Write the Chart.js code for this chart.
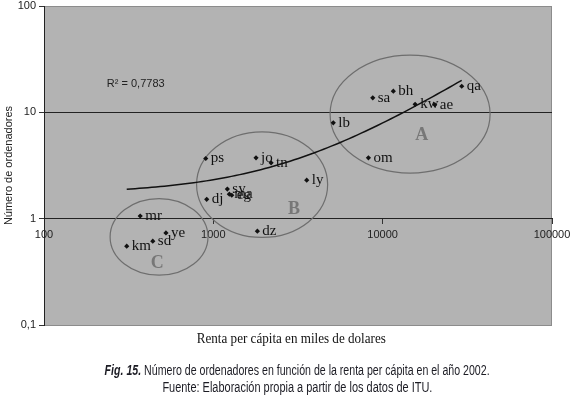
<!DOCTYPE html>
<html>
<head>
<meta charset="utf-8">
<script src="https://cdn.jsdelivr.net/npm/chart.js@4"></script>
<style>
  html, body { margin: 0; padding: 0; background: #fff; }
  #wrap { position: relative; width: 570px; height: 396px; overflow: hidden; }
  #grafico { position: absolute; left: 0; top: 0; }
  .linea { position: absolute; left: 0; text-align: center; white-space: nowrap; }
  .linea span { display: inline-block; transform-origin: 50% 50%; }
  .xtitle { width: 583px; top: 330px; font-family: "Liberation Serif", serif; font-size: 15px; color: #111; }
  .caption { width: 594px; font-family: "Liberation Sans", sans-serif; font-size: 14px; color: #1c1c24; }
</style>
</head>
<body>
<div id="wrap">
  <canvas id="grafico" width="570" height="396"></canvas>
  <div class="linea xtitle"><span data-w="189">Renta per cápita en miles de dolares</span></div>
  <div class="linea caption" style="top:362px"><span data-w="385"><b><i>Fig. 15.</i></b> Número de ordenadores en función de la renta per cápita en el año 2002.</span></div>
  <div class="linea caption" style="top:379px"><span data-w="270">Fuente: Elaboración propia a partir de los datos de ITU.</span></div>
</div>
<script>
// datos
const paises = ['qa', 'bh', 'sa', 'kw', 'ae', 'lb', 'om', 'ly', 'ps', 'jo', 'tn', 'sy', 'ma', 'eg', 'dj', 'dz', 'mr', 'ye', 'sd', 'km'];
const renta = [29300, 11560, 8740, 15550, 20300, 5110, 8240, 3560, 902, 1787, 2193, 1210, 1243, 1285, 914, 1820, 370, 525, 439, 308];
const ordenadores = [17.6, 15.8, 13.7, 11.9, 11.8, 7.96, 3.73, 2.30, 3.68, 3.73, 3.35, 1.9, 1.70, 1.66, 1.52, 0.763, 1.06, 0.735, 0.614, 0.551];
const xTicks = [100, 1000, 10000, 100000];
const yTicks = [0.1, 1, 10, 100];
const yTickLabels = ['0,1', '1', '10', '100'];
const r2Text = 'R² = 0,7783';

// grupos A, B, C: centro en unidades de datos, radios en decadas
const grupos = [
  { letra: 'A', cx: 14520, cy: 9.62, rx: 0.4725, ry: 0.555, lx: 17020, ly: 6.10 },
  { letra: 'B', cx: 1941, cy: 2.09, rx: 0.387, ry: 0.497, lx: 2999, ly: 1.23 },
  { letra: 'C', cx: 478, cy: 0.674, rx: 0.289, ry: 0.360, lx: 467, ly: 0.379 }
];

// textos de pie comprimidos al ancho del original
document.querySelectorAll('.linea span').forEach(el => {
  const w = el.getBoundingClientRect().width;
  el.style.transform = 'scaleX(' + (Number(el.dataset.w) / w) + ')';
});

const puntos = renta.map((x, i) => ({ x: x, y: ordenadores[i] }));

// linea de tendencia lineal (minimos cuadrados)
const n = renta.length;
const mx = renta.reduce((a, b) => a + b, 0) / n;
const my = ordenadores.reduce((a, b) => a + b, 0) / n;
let sxy = 0, sxx = 0;
for (let i = 0; i < n; i++) {
  sxy += (renta[i] - mx) * (ordenadores[i] - my);
  sxx += (renta[i] - mx) * (renta[i] - mx);
}
const pend = sxy / sxx;
const orig = my - pend * mx;
const xMin = Math.min(...renta), xMax = Math.max(...renta);
const tendencia = [];
for (let i = 0; i <= 80; i++) {
  const x = xMin * Math.pow(xMax / xMin, i / 80);
  tendencia.push({ x: x, y: orig + pend * x });
}

const extras = {
  id: 'extras',
  beforeDraw(chart) {
    const a = chart.chartArea, c = chart.ctx;
    c.save();
    c.fillStyle = '#b3b3b3';
    c.fillRect(a.left, a.top, a.right - a.left, a.bottom - a.top);
    c.strokeStyle = '#8c8c8c';
    c.lineWidth = 1;
    c.strokeRect(a.left + 0.5, a.top + 0.5, a.right - a.left - 1, a.bottom - a.top);
    c.restore();
  },
  beforeDatasetsDraw(chart) {
    const c = chart.ctx, xs = chart.scales.x, ys = chart.scales.y;
    c.save();
    c.strokeStyle = '#6e6e6e';
    c.lineWidth = 1.2;
    grupos.forEach(g => {
      const px = xs.getPixelForValue(g.cx), py = ys.getPixelForValue(g.cy);
      const rx = xs.getPixelForValue(g.cx * Math.pow(10, g.rx)) - px;
      const ry = py - ys.getPixelForValue(g.cy * Math.pow(10, g.ry));
      c.beginPath();
      c.ellipse(px, py, rx, ry, 0, 0, Math.PI * 2);
      c.stroke();
    });
    c.fillStyle = '#777';
    c.font = 'bold 18px "Liberation Serif"';
    c.textAlign = 'center';
    c.textBaseline = 'middle';
    grupos.forEach(g => {
      c.fillText(g.letra, xs.getPixelForValue(g.lx), ys.getPixelForValue(g.ly));
    });
    c.restore();
  },
  afterDatasetsDraw(chart) {
    const c = chart.ctx, xs = chart.scales.x, ys = chart.scales.y;
    const meta = chart.getDatasetMeta(1);
    c.save();
    c.fillStyle = '#111';
    c.font = '15px "Liberation Serif"';
    c.textAlign = 'left';
    c.textBaseline = 'middle';
    meta.data.forEach((p, i) => {
      c.fillText(paises[i], p.x + 5, p.y);
    });
    c.font = '11px "Liberation Sans"';
    c.fillStyle = '#222';
    c.textBaseline = 'alphabetic';
    c.fillText(r2Text, xs.getPixelForValue(235), ys.getPixelForValue(17.3));
    c.restore();
  }
};

new Chart(document.getElementById('grafico'), {
  data: {
    datasets: [
      {
        type: 'line',
        data: tendencia,
        borderColor: '#111',
        borderWidth: 1.5,
        pointRadius: 0,
        fill: false
      },
      {
        type: 'scatter',
        data: puntos,
        pointStyle: 'rectRot',
        pointRadius: 2.6,
        backgroundColor: '#111',
        borderWidth: 0
      }
    ]
  },
  options: {
    responsive: false,
    animation: false,
    layout: { padding: { left: 0, right: 18, top: 6, bottom: 71 } },
    plugins: { legend: { display: false }, tooltip: { enabled: false } },
    scales: {
      x: {
        type: 'logarithmic',
        min: 100,
        max: 100000,
        position: { y: 1 },
        afterBuildTicks: s => { s.ticks = xTicks.map(v => ({ value: v })); },
        afterFit: s => { s.paddingLeft = 0; s.paddingRight = 0; },
        ticks: {
          autoSkip: false,
          maxRotation: 0,
          padding: 5,
          color: '#222',
          font: { family: 'Liberation Sans', size: 11 },
          callback: v => String(v)
        },
        grid: { drawOnChartArea: false, tickLength: 5, tickColor: '#333' },
        border: { display: true, color: '#222' }
      },
      y: {
        type: 'logarithmic',
        min: 0.1,
        max: 100,
        afterBuildTicks: s => { s.ticks = yTicks.map(v => ({ value: v })); },
        afterFit: s => { s.width = 44; s.paddingTop = 0; s.paddingBottom = 0; },
        ticks: {
          padding: 3,
          color: '#222',
          font: { family: 'Liberation Sans', size: 11 },
          callback: v => yTickLabels[yTicks.indexOf(v)]
        },
        grid: {
          tickLength: 5,
          tickColor: '#333',
          color: ctx => (ctx.tick && (ctx.tick.value === 1 || ctx.tick.value === 10)) ? '#222' : 'rgba(0,0,0,0)'
        },
        border: { display: true, color: '#222' },
        title: {
          display: true,
          text: 'Número de ordenadores',
          color: '#222',
          font: { family: 'Liberation Sans', size: 11 },
          padding: { top: 2, bottom: 0 }
        }
      }
    }
  },
  plugins: [extras]
});
</script>
</body>
</html>
